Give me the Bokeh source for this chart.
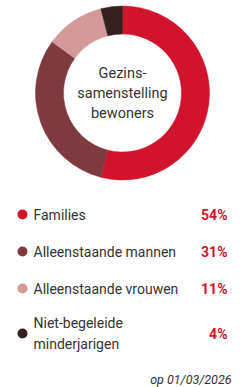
import numpy as np
from bokeh.plotting import figure
from bokeh.models import Range1d, ColumnDataSource
from bokeh.core.properties import value
from bokeh.embed import file_html
from bokeh.resources import INLINE

categories = ["Families", "Alleenstaande mannen", "Alleenstaande vrouwen", "Niet-begeleide\nminderjarigen"]
shares = [54, 31, 11, 4]
pct_labels = ["54%", "31%", "11%", "4%"]
colors = ["#D0142C", "#7E3A40", "#D49A9A", "#33201F"]
center_title = ["Gezins-", "samenstelling", "bewoners"]
footer = "op 01/03/2026"

W, H = 245, 387
p = figure(width=W, height=H, output_backend="svg", toolbar_location=None,
           x_range=Range1d(0, W), y_range=Range1d(H, 0), min_border=0)
p.axis.visible = False
p.grid.visible = False
p.outline_line_color = None
p.background_fill_color = "white"
p.border_fill_color = "white"

# donut, starting at the top and running clockwise on screen
frac = np.array(shares, dtype=float) / sum(shares)
cum = np.concatenate([[0], np.cumsum(frac)])
start = 0.5 * np.pi - cum[:-1] * 2 * np.pi
end = 0.5 * np.pi - cum[1:] * 2 * np.pi
src = ColumnDataSource(dict(start=start, end=end, color=colors))
p.annular_wedge(x=122, y=92.5, inner_radius=59, outer_radius=87, start_angle="start",
                end_angle="end", direction="clock", fill_color="color",
                line_color="color", line_width=0.5, source=src)

for i, t in enumerate(center_title):
    p.text(x=[122], y=[73 + i * 20], text=[t], text_align="center", text_baseline="middle",
           text_font=value("Roboto"), text_font_size="14.5px", text_color="#333333")

# legend
row_y = [214, 251, 288, 333]
p.scatter(x=[22] * 4, y=row_y, size=10, color=colors, line_color=None)
for i, c in enumerate(categories):
    lines = c.split("\n")
    if len(lines) == 1:
        ys = [row_y[i]]
    else:
        ys = [row_y[i] - 10.5, row_y[i] + 10.5]
    for ln, yy in zip(lines, ys):
        p.text(x=[33], y=[yy], text=[ln], text_align="left", text_baseline="middle",
               text_font=value("Roboto"), text_font_size="14px", text_color="#333333")
    p.text(x=[227], y=[row_y[i]], text=[pct_labels[i]], text_align="right", text_baseline="middle",
           text_font=value("Roboto"), text_font_size="14px", text_font_style="bold",
           text_color="#D0142C")

p.text(x=[231], y=[379], text=[footer], text_align="right", text_baseline="middle",
       text_font=value("Roboto"), text_font_size="12.5px", text_font_style="italic",
       text_color="#333333")

open("out.html", "w").write(file_html(p, INLINE))
